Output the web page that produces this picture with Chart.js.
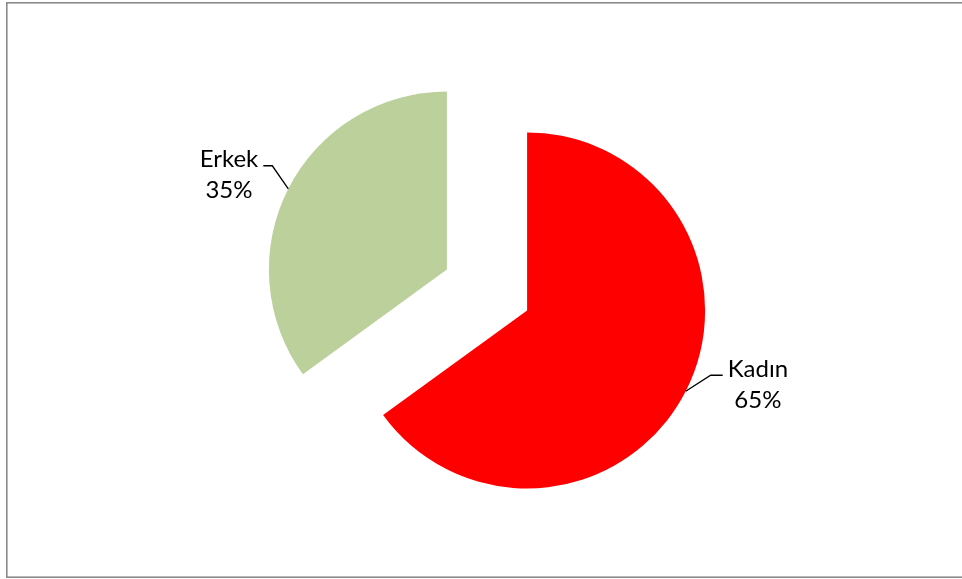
<!DOCTYPE html>
<html>
<head>
<meta charset="utf-8">
<script src="https://cdn.jsdelivr.net/npm/chart.js@4/dist/chart.umd.min.js"></script>
<style>
html,body{margin:0;padding:0;background:#fff;overflow:hidden;}
#wrap{position:relative;width:962px;height:579px;}
</style>
</head>
<body>
<div id="wrap"><canvas id="c" width="962" height="579"></canvas></div>
<script>
const categories = ["Kadın", "Erkek"];
const values = [65, 35];
const percentLabels = ["65%", "35%"];
const sliceColors = ["#FF0000", "#BBD09A"];

const PIE_RADIUS = 178;
const EXPLODE = 180; // Chart.js translates by offset/4
const FONT = '24px Lato, "Noto Sans", sans-serif';

const frame = {
  id: 'frame',
  beforeDraw(chart) {
    const ctx = chart.ctx;
    ctx.save();
    ctx.fillStyle = '#fff';
    ctx.fillRect(0, 0, chart.width, chart.height);
    ctx.strokeStyle = '#8a8a8a';
    ctx.lineWidth = 1.6;
    ctx.strokeRect(6.8, 2.8, 1000, 574.4);
    ctx.restore();
  }
};

// keep every exploded slice at the same visible radius and full angular width
const equalRadius = {
  id: 'equalRadius',
  afterDatasetUpdate(chart, args) {
    args.meta.data.forEach(arc => {
      const off = (arc.options.offset || 0) / 4;
      const circ = arc.circumference;
      const fix = 1 - Math.sin(Math.min(Math.PI, circ));
      const rOff = off * fix;
      arc.outerRadius = PIE_RADIUS - rOff;
      const ao = rOff / (Math.PI * PIE_RADIUS) / 2;
      arc.startAngle -= ao;
      arc.endAngle += ao;
    });
  }
};

const leaderOffsets = [
  {elbow: [25, -16], run: 12},
  {elbow: [-16, -23], run: -9}
];

const labels = {
  id: 'labels',
  afterDatasetsDraw(chart) {
    const ctx = chart.ctx;
    const meta = chart.getDatasetMeta(0);
    ctx.save();
    ctx.font = FONT;
    meta.data.forEach((arc, i) => {
      const half = (arc.startAngle + arc.endAngle) / 2;
      const off = (arc.options.offset || 0) / 4;
      const cx = arc.x + Math.cos(half) * off;
      const cy = arc.y + Math.sin(half) * off;
      const ex = cx + Math.cos(half) * PIE_RADIUS;
      const ey = cy + Math.sin(half) * PIE_RADIUS;
      const lo = leaderOffsets[i];
      const bx = ex + lo.elbow[0], by = ey + lo.elbow[1];
      const tx = bx + lo.run;
      ctx.strokeStyle = '#000';
      ctx.lineWidth = 1.3;
      ctx.beginPath();
      ctx.moveTo(ex, ey);
      ctx.lineTo(bx, by);
      ctx.lineTo(tx, by);
      ctx.stroke();
      const l1 = categories[i], l2 = percentLabels[i];
      const w = Math.max(ctx.measureText(l1).width, ctx.measureText(l2).width);
      const center = lo.run > 0 ? tx + 5 + w / 2 : tx - 5 - w / 2;
      ctx.fillStyle = '#000';
      ctx.textAlign = 'center';
      ctx.textBaseline = 'alphabetic';
      ctx.fillText(l1, center, by + 1.5);
      ctx.fillText(l2, center, by + 32.5);
    });
    ctx.restore();
  }
};

new Chart(document.getElementById('c'), {
  type: 'pie',
  data: {
    labels: categories,
    datasets: [{
      data: values,
      backgroundColor: sliceColors,
      borderWidth: 0,
      offset: EXPLODE,
      hoverOffset: EXPLODE
    }]
  },
  options: {
    responsive: false,
    animation: false,
    events: [],
    radius: PIE_RADIUS,
    layout: {padding: {left: 12, top: 1, right: 0, bottom: 0}},
    plugins: {legend: {display: false}, tooltip: {enabled: false}, title: {display: false}}
  },
  plugins: [frame, equalRadius, labels]
});
</script>
</body>
</html>
